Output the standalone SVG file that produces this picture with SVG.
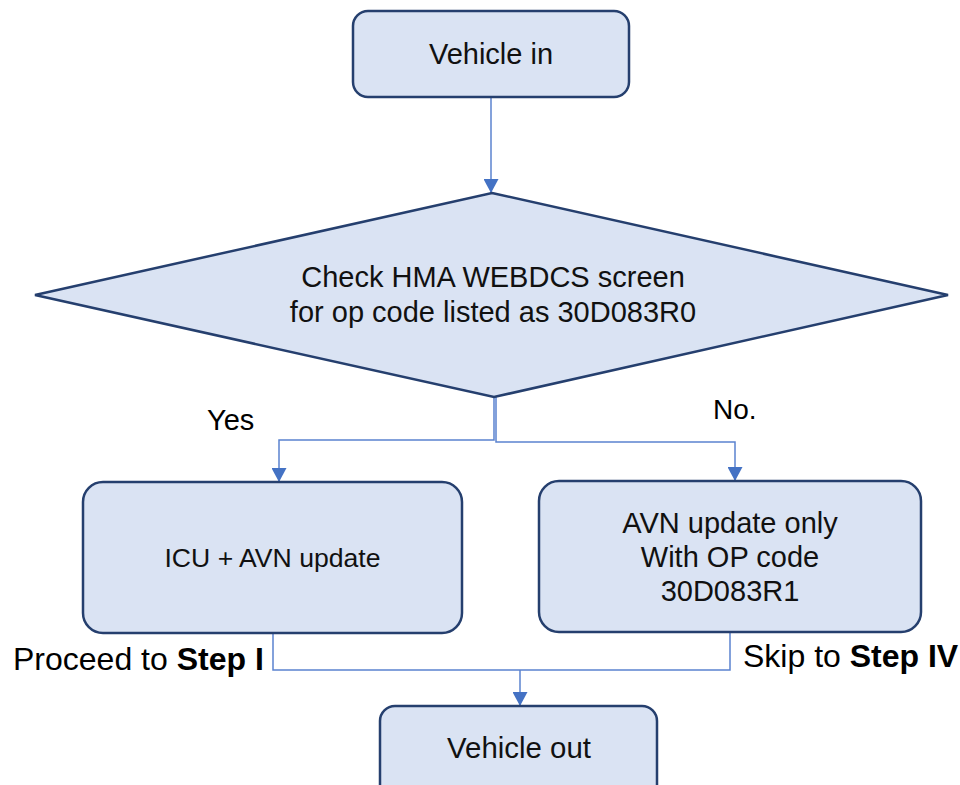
<svg xmlns="http://www.w3.org/2000/svg" width="960" height="785" viewBox="0 0 960 785">
<defs>
<style>
.node{fill:#dae3f3;stroke:#253f6e;stroke-width:2.5}
.t{font-family:"Liberation Sans",Arial,sans-serif;fill:#111;text-anchor:middle}
.lbl{font-family:"Liberation Sans",Arial,sans-serif;fill:#000}
.c{fill:none;stroke:#5b83cf;stroke-width:1.5}
</style>
<marker id="ah" viewBox="0 0 14 15" refX="14" refY="7.5" markerWidth="14" markerHeight="15" markerUnits="userSpaceOnUse" orient="auto">
<path d="M0,0 L14,7.5 L0,15 Z" fill="#4472c4"/>
</marker>
</defs>
<rect width="960" height="785" fill="#fff"/>
<g id="connectors">
<path class="c" d="M491,97 V193" marker-end="url(#ah)"/>
<path class="c" d="M494,397 V440 H279 V482" marker-end="url(#ah)"/>
<path class="c" d="M496,397 V442 H735 V481" marker-end="url(#ah)"/>
<path class="c" d="M273,633 V670 H520"/>
<path class="c" d="M730,632 V670 H520"/>
<path class="c" d="M520,670 V706" marker-end="url(#ah)"/>
</g>
<g id="vehicle-in">
<rect class="node" x="353" y="11" width="276" height="86" rx="15"/>
<text class="t" x="491" y="64" font-size="29">Vehicle in</text>
</g>
<g id="check">
<polygon class="node" points="492,193 948,295 494,397 35,295"/>
<text class="t" x="493" y="287" font-size="29">Check HMA WEBDCS screen</text>
<text class="t" x="493" y="322" font-size="29">for op code listed as 30D083R0</text>
</g>
<g id="icu-avn">
<rect class="node" x="83" y="482" width="379" height="151" rx="20"/>
<text class="t" x="272.5" y="567" font-size="26.6">ICU + AVN update</text>
</g>
<g id="avn-only">
<rect class="node" x="539" y="481" width="382" height="151" rx="20"/>
<text class="t" x="730" y="533" font-size="29">AVN update only</text>
<text class="t" x="730" y="567" font-size="29">With OP code</text>
<text class="t" x="730" y="601" font-size="29">30D083R1</text>
</g>
<g id="vehicle-out">
<rect class="node" x="380" y="706" width="277" height="100" rx="15"/>
<text class="t" x="519" y="758" font-size="29.4">Vehicle out</text>
</g>
<g id="labels">
<text class="lbl" x="207" y="430" font-size="29">Yes</text>
<text class="lbl" x="713" y="419" font-size="28">No.</text>
<text class="lbl" x="13" y="670" font-size="32">Proceed to <tspan font-weight="bold">Step I</tspan></text>
<text class="lbl" x="743" y="667" font-size="32">Skip to <tspan font-weight="bold">Step IV</tspan></text>
</g>
</svg>
